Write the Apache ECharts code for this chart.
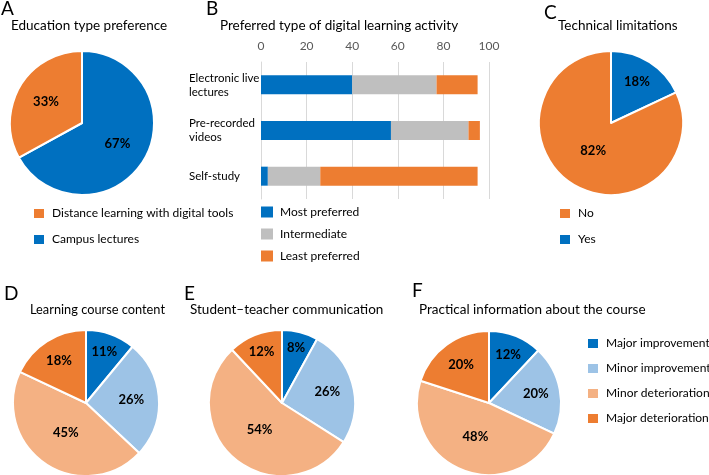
<!DOCTYPE html>
<html>
<head>
<meta charset="utf-8">
<script src="https://cdn.jsdelivr.net/npm/echarts@6/dist/echarts.min.js"></script>
<style>html,body{margin:0;padding:0;background:#fff;}#c{width:709px;height:475px;}</style>
</head>
<body>
<div id="c"></div>
<script>
// ---- Data ----
const prefNames = ['Campus lectures', 'Distance learning with digital tools'];
const prefValues = [67, 33];
const techNames = ['Yes', 'No'];
const techValues = [18, 82];
const changeNames = ['Major improvement', 'Minor improvement', 'Minor deterioration', 'Major deterioration'];
const contentValues = [11, 26, 45, 18];
const commValues = [8, 26, 54, 12];
const practicalValues = [12, 20, 48, 20];
const activityCategories = ['Electronic live\nlectures', 'Pre-recorded\nvideos', 'Self-study'];
const mostPreferred = [40, 57, 3];
const intermediate = [37, 34, 23];
const leastPreferred = [18, 5, 69];
const activityTicks = [0, 20, 40, 60, 80, 100];

// ---- Style ----
const FONT = 'Lato';
const BLUE = '#0070C0', ORANGE = '#ED7D31', GRAY = '#BFBFBF', LBLUE = '#9DC3E6', LORANGE = '#F4B183';
const TITLE_SIZE = 13.5, LETTER_SIZE = 19, LEG_SIZE = 12;
// label distance from centre as fraction of radius (mimics Excel "best fit")
const labelRadA = [0.53, 0.54];
const labelRadC = [0.63, 0.42];
const labelRadD = [0.70, 0.58, 0.45, 0.65];
const labelRadE = [0.74, 0.60, 0.44, 0.72];
const labelRadF = [0.68, 0.62, 0.47, 0.62];

function pie(names, values, colors, center, radius, labelRad) {
  const total = values.reduce((a, b) => a + b, 0);
  let cum = 0;
  const data = names.map((n, i) => {
    const mid = (cum + values[i] / 2) / total * 2 * Math.PI;
    cum += values[i];
    const d = (labelRad[i] - 0.5) * radius;
    return {
      name: n, value: values[i], itemStyle: { color: colors[i] },
      label: { offset: [d * Math.sin(mid), -d * Math.cos(mid)] }
    };
  });
  return {
    type: 'pie', center: center, radius: radius, startAngle: 90, clockwise: true,
    animation: false, silent: true, data: data,
    itemStyle: { borderColor: '#fff', borderWidth: 2 },
    label: { show: true, position: 'inside', formatter: '{c}%', color: '#000', fontWeight: 'bold', fontSize: 13, fontFamily: FONT },
    labelLine: { show: false }
  };
}
function letter(t, left, top) {
  return { text: t, left: left, top: top, padding: 0, textStyle: { fontSize: LETTER_SIZE, fontWeight: 'normal', color: '#000', fontFamily: FONT } };
}
function ttl(t, left, top, size) {
  return { text: t, left: left, top: top, padding: 0, textStyle: { fontSize: size || TITLE_SIZE, fontWeight: 'normal', color: '#000', fontFamily: FONT } };
}
function legend(data, left, top, gap) {
  return { data: data, orient: 'vertical', left: left, top: top, itemWidth: 12, itemHeight: 11, itemGap: gap, padding: 0,
    icon: 'rect', selectedMode: false, textStyle: { fontSize: LEG_SIZE, color: '#000', fontFamily: FONT, padding: [0, 0, 0, 2] } };
}

const changeColors = [BLUE, LBLUE, LORANGE, ORANGE];

const option = {
  animation: false,
  textStyle: { fontFamily: FONT },
  title: [
    letter('A', 1, -1), ttl('Education type preference', 11, 19),
    letter('B', 206, -1), ttl('Preferred type of digital learning activity', 220, 19),
    letter('C', 544, 3), ttl('Technical limitations', 558, 19),
    letter('D', 4, 284), ttl('Learning course content', 30, 303, 12.8),
    letter('E', 184, 284), ttl('Student\u2013teacher communication', 190, 303),
    letter('F', 412, 281), ttl('Practical information about the course', 419, 303)
  ],
  legend: [
    legend(['Distance learning with digital tools', 'Campus lectures'], 32, 207, 13),
    legend(['Most preferred', 'Intermediate', 'Least preferred'], 261, 206, 10),
    legend(['No', 'Yes'], 558, 207, 13),
    legend(changeNames, 586, 337, 12)
  ],
  grid: { left: 261, right: 220, top: 62, height: 137, containLabel: false },
  xAxis: {
    type: 'value', position: 'top', min: 0, max: 100, interval: 20,
    axisLine: { show: false }, axisTick: { show: false },
    axisLabel: { color: '#595959', fontSize: 12, fontFamily: FONT, margin: 10,
      formatter: v => activityTicks.includes(v) ? String(v) : '' },
    splitLine: { show: true, lineStyle: { color: '#D9D9D9', width: 1 } }
  },
  yAxis: {
    type: 'category', data: activityCategories, inverse: true,
    axisLine: { show: true, lineStyle: { color: '#D9D9D9' } }, axisTick: { show: false },
    axisLabel: { color: '#000', fontSize: 11.5, fontFamily: FONT, align: 'left', margin: 72, lineHeight: 14 }
  },
  series: [
    { name: 'Most preferred', type: 'bar', stack: 's', data: mostPreferred, barWidth: 19, itemStyle: { color: BLUE }, silent: true },
    { name: 'Intermediate', type: 'bar', stack: 's', data: intermediate, barWidth: 19, itemStyle: { color: GRAY }, silent: true },
    { name: 'Least preferred', type: 'bar', stack: 's', data: leastPreferred, barWidth: 19, itemStyle: { color: ORANGE }, silent: true },
    pie(prefNames, prefValues, [BLUE, ORANGE], [82, 123], 72, labelRadA),
    pie(techNames, techValues, [BLUE, ORANGE], [611, 123], 72, labelRadC),
    pie(changeNames, contentValues, changeColors, [86, 403], 73, labelRadD),
    pie(changeNames, commValues, changeColors, [282, 403], 73, labelRadE),
    pie(changeNames, practicalValues, changeColors, [489, 403], 72, labelRadF)
  ]
};
const chart = echarts.init(document.getElementById('c'), null, { renderer: 'canvas' });
chart.setOption(option);
</script>
</body>
</html>
